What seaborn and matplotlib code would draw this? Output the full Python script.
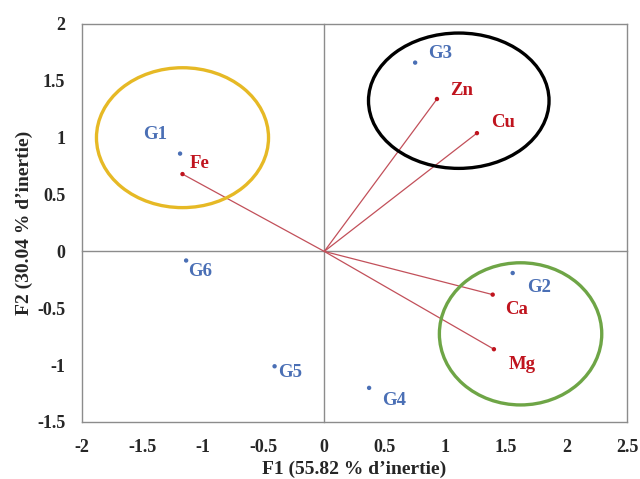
import numpy as np
import pandas as pd
import matplotlib
matplotlib.use("Agg")
import matplotlib.pyplot as plt
import seaborn as sns
from matplotlib.patches import Ellipse

# Observations (groups)
groups = ["G1", "G2", "G3", "G4", "G5", "G6"]
groups_f1 = [-1.19, 1.555, 0.75, 0.37, -0.41, -1.14]
groups_f2 = [0.86, -0.19, 1.66, -1.20, -1.01, -0.08]

# Variables (elements)
elements = ["Fe", "Zn", "Cu", "Ca", "Mg"]
elements_f1 = [-1.17, 0.93, 1.26, 1.39, 1.40]
elements_f2 = [0.68, 1.34, 1.04, -0.38, -0.86]

# Axis ticks
x_ticks = [-2, -1.5, -1, -0.5, 0, 0.5, 1, 1.5, 2, 2.5]
x_tick_labels = ["-2", "-1.5", "-1", "-0.5", "0", "0.5", "1", "1.5", "2", "2.5"]
y_ticks = [-1.5, -1, -0.5, 0, 0.5, 1, 1.5, 2]
y_tick_labels = ["-1.5", "-1", "-0.5", "0", "0.5", "1", "1.5", "2"]

# Highlight ellipses (center x, center y, width, height)
ellipse_cx = [-1.17, 1.11, 1.62]
ellipse_cy = [1.00, 1.325, -0.725]
ellipse_w = [1.42, 1.49, 1.34]
ellipse_h = [1.23, 1.19, 1.25]
ellipse_colors = ["#E6B925", "#000000", "#6EA546"]

# label offsets in pixels (style only)
group_offsets = {"G1": (-25, 19), "G2": (26, -14), "G3": (25, 9),
                 "G4": (25, -13), "G5": (16, -6), "G6": (14, -11)}
element_offsets = {"Fe": (17, 11), "Zn": (25, 9), "Cu": (26, 11),
                   "Ca": (24, -15), "Mg": (28, -15)}

BLUE = "#4A6FB5"
RED = "#C0141E"
LINE_RED = "#C2505A"

sns.set_style("white")
plt.rcParams["font.family"] = ["Liberation Serif", "DejaVu Serif"]
plt.rcParams["font.weight"] = "bold"

df_g = pd.DataFrame({"F1": groups_f1, "F2": groups_f2, "label": groups})
df_e = pd.DataFrame({"F1": elements_f1, "F2": elements_f2, "label": elements})

fig = plt.figure(figsize=(6.4, 4.79), dpi=100)
ax = fig.add_axes([0.128, 0.119, 0.852, 0.831])

# vectors from origin to each element
for x, y in zip(elements_f1, elements_f2):
    ax.plot([0, x], [0, y], color=LINE_RED, lw=0.9, zorder=2)

sns.scatterplot(data=df_g, x="F1", y="F2", ax=ax, color=BLUE, s=10,
                edgecolor="none", zorder=4)
sns.scatterplot(data=df_e, x="F1", y="F2", ax=ax, color=RED, s=10,
                edgecolor="none", zorder=4)

for _, r in df_g.iterrows():
    ax.annotate(r["label"], (r["F1"], r["F2"]), xytext=group_offsets[r["label"]],
                textcoords="offset pixels", ha="center", va="center",
                color=BLUE, fontsize=13.5, fontweight="bold")
for _, r in df_e.iterrows():
    ax.annotate(r["label"], (r["F1"], r["F2"]), xytext=element_offsets[r["label"]],
                textcoords="offset pixels", ha="center", va="center",
                color=RED, fontsize=13.5, fontweight="bold")

for cx, cy, w, h, c in zip(ellipse_cx, ellipse_cy, ellipse_w, ellipse_h, ellipse_colors):
    ax.add_patch(Ellipse((cx, cy), w, h, fill=False, edgecolor=c, lw=2.4, zorder=3))

ax.set_xlim(-2, 2.5)
ax.set_ylim(-1.5, 2)
ax.set_xticks(x_ticks)
ax.set_xticklabels(x_tick_labels)
ax.set_yticks(y_ticks)
ax.set_yticklabels(y_tick_labels)
ax.tick_params(length=0, labelsize=13, pad=12)
for lab in ax.get_xticklabels() + ax.get_yticklabels():
    lab.set_fontweight("bold")
for sp in ax.spines.values():
    sp.set_color("#8C8C8C")
    sp.set_linewidth(1.0)
ax.set_xlabel("F1 (55.82 % d\u2019inertie)", fontsize=14, fontweight="bold", labelpad=3.5)
ax.set_ylabel("F2 (30.04 % d\u2019inertie)", fontsize=14, fontweight="bold", labelpad=3)

# inner axes crossing at the origin
ax2 = fig.add_axes(ax.get_position(), sharex=ax, sharey=ax)
ax2.patch.set_visible(False)
ax2.spines["left"].set_position(("data", 0))
ax2.spines["bottom"].set_position(("data", 0))
ax2.spines["top"].set_visible(False)
ax2.spines["right"].set_visible(False)
for s in ("left", "bottom"):
    ax2.spines[s].set_color("#8C8C8C")
    ax2.spines[s].set_linewidth(1.0)
ax2.tick_params(direction="inout", length=8, width=0.8, color="#8C8C8C",
                labelleft=False, labelbottom=False)
ax2.set_zorder(0)
ax.set_zorder(1)
ax.patch.set_visible(False)
ax2.set_xlabel("")
ax2.set_ylabel("")

fig.savefig("out.png", dpi=100)
